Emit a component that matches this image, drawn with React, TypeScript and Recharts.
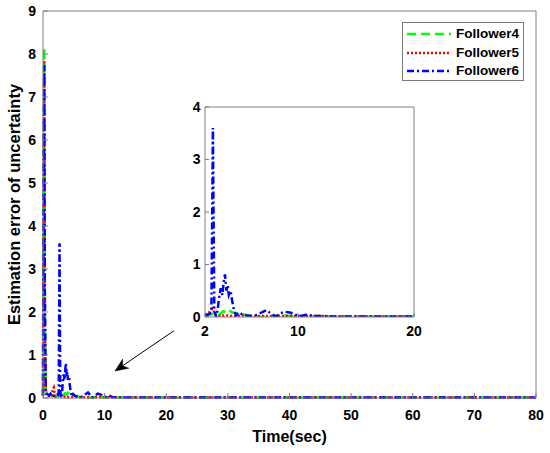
import React from 'react';
import { LineChart, Line, XAxis, YAxis, Legend, ReferenceLine } from 'recharts';

const time = [
  0, 0.1, 0.2, 0.3, 0.45, 0.6, 0.8, 1.0, 1.2, 1.4,
  1.6, 1.75, 1.9, 2.0, 2.2, 2.4, 2.55, 2.68, 2.8, 2.95,
  3.1, 3.2, 3.35, 3.5, 3.6, 3.72, 3.85, 3.95, 4.05, 4.2,
  4.35, 4.5, 4.7, 4.9, 5.2, 5.6, 6.0, 6.5, 6.9, 7.3,
  7.7, 8.1, 8.5, 8.9, 9.4, 9.9, 10.3, 10.8, 11.3, 12,
  13, 14, 16, 18, 20, 25, 30, 35, 40, 45,
  50, 55, 60, 65, 70, 75, 80,
];

const follower4 = [
  0.05, 6.0, 8.15, 2.0, 0.2, 0.12, 0.08, 0.1, 0.06, 0.05,
  0.06, 0.05, 0.04, 0.04, 0.03, 0.04, 0.05, 0.06, 0.05, 0.03,
  0.02, 0.04, 0.07, 0.1, 0.11, 0.1, 0.08, 0.09, 0.12, 0.11,
  0.09, 0.08, 0.07, 0.06, 0.05, 0.04, 0.02, 0.01, 0.0, 0.0,
  0.01, 0.02, 0.03, 0.03, 0.02, 0.02, 0.02, 0.02, 0.02, 0.01,
  0.01, 0.01, 0.01, 0.01, 0.01, 0.01, 0.01, 0.01, 0.01, 0.01,
  0.01, 0.01, 0.01, 0.01, 0.01, 0.01, 0.01,
];

const follower5 = [
  0.05, 5.5, 7.85, 1.6, 0.12, 0.06, 0.04, 0.05, 0.03, 0.05,
  0.2, 0.24, 0.1, 0.04, 0.06, 0.1, 0.14, 0.2, 0.08, 0.03,
  0.02, 0.02, 0.02, 0.03, 0.02, 0.02, 0.02, 0.03, 0.02, 0.02,
  0.02, 0.02, 0.02, 0.02, 0.03, 0.02, 0.02, 0.02, 0.02, 0.02,
  0.02, 0.02, 0.02, 0.02, 0.02, 0.02, 0.02, 0.02, 0.02, 0.02,
  0.01, 0.01, 0.01, 0.01, 0.01, 0.01, 0.01, 0.01, 0.01, 0.01,
  0.01, 0.01, 0.01, 0.01, 0.01, 0.01, 0.01,
];

const follower6 = [
  0.05, 5.0, 7.75, 2.5, 0.2, 0.1, 0.08, 0.06, 0.1, 0.05,
  0.08, 0.05, 0.04, 0.05, 0.04, 0.06, 0.1, 3.6, 0.15, 0.0,
  0.15, 0.35, 0.55, 0.42, 0.65, 0.81, 0.5, 0.6, 0.42, 0.5,
  0.3, 0.12, 0.03, 0.09, 0.05, 0.03, 0.02, 0.04, 0.09, 0.13,
  0.06, 0.01, 0.07, 0.1, 0.08, 0.03, 0.02, 0.05, 0.02, 0.02,
  0.01, 0.01, 0.01, 0.01, 0.01, 0.01, 0.01, 0.01, 0.01, 0.01,
  0.01, 0.01, 0.01, 0.01, 0.01, 0.01, 0.01,
];

const mainXTicks = [0, 10, 20, 30, 40, 50, 60, 70, 80];
const mainYTicks = [0, 1, 2, 3, 4, 5, 6, 7, 8, 9];
const insetXTicks = [2, 10, 20];
const insetYTicks = [0, 1, 2, 3, 4];

const seriesKeys = ['f4', 'f5', 'f6'];
const seriesNames = ['Follower4', 'Follower5', 'Follower6'];
const seriesColors = ['#00ff00', '#ff0000', '#0000ff'];
const seriesDash = ['9 5', '2 2', '7 3 2 3'];

const arrowFrom = { x: 21.25, y: 1.565 };
const arrowTo = { x: 11.68, y: 0.628 };

const data = time.map((t, i) => ({ t, f4: follower4[i], f5: follower5[i], f6: follower6[i] }));
const insetData = data.filter((d) => d.t >= 2 && d.t <= 20);

const FONT = '"Liberation Sans", Arial, sans-serif';
const AX = '#808080';
const tickStyle = { fill: '#000', fontSize: 14, fontWeight: 'bold', fontFamily: FONT };

const ArrowShape = (props: any) => {
  const { x1, y1, x2, y2 } = props;
  if ([x1, y1, x2, y2].some((v) => typeof v !== 'number' || isNaN(v))) return <g />;
  const dx = x2 - x1;
  const dy = y2 - y1;
  const len = Math.sqrt(dx * dx + dy * dy);
  const ux = dx / len;
  const uy = dy / len;
  const px = -uy;
  const py = ux;
  const L = 13;
  const W = 5.5;
  const bx = x2 - ux * L;
  const by = y2 - uy * L;
  const ix = x2 - ux * L * 0.7;
  const iy = y2 - uy * L * 0.7;
  const pts = `${x2},${y2} ${bx + px * W},${by + py * W} ${ix},${iy} ${bx - px * W},${by - py * W}`;
  return (
    <g>
      <line x1={x1} y1={y1} x2={ix} y2={iy} stroke="#000" strokeWidth={1} />
      <polygon points={pts} fill="#000" stroke="#000" strokeWidth={0.5} />
    </g>
  );
};

const LegendBox = () => (
  <div
    style={{
      position: 'relative',
      width: 122,
      height: 59,
      boxSizing: 'border-box',
      border: '1px solid #7a7a7a',
      background: '#fff',
    }}
  >
    {seriesNames.map((name, i) => (
      <div
        key={name}
        style={{
          position: 'absolute',
          left: 0,
          top: 1.5 + i * 18.7,
          height: 18.7,
          display: 'flex',
          alignItems: 'center',
        }}
      >
        <svg width={44} height={4} style={{ marginLeft: 4 }}>
          <line
            x1={0}
            y1={2}
            x2={44}
            y2={2}
            stroke={seriesColors[i]}
            strokeWidth={2.5}
            strokeDasharray={seriesDash[i]}
          />
        </svg>
        <span
          style={{
            marginLeft: 5,
            fontFamily: FONT,
            fontWeight: 'bold',
            fontSize: 13.5,
            color: '#000',
            lineHeight: '18px',
          }}
        >
          {name}
        </span>
      </div>
    ))}
  </div>
);

const renderLines = () =>
  seriesKeys.map((k, i) => (
    <Line
      key={k}
      dataKey={k}
      name={seriesNames[i]}
      type="linear"
      stroke={seriesColors[i]}
      strokeWidth={2.5}
      strokeDasharray={seriesDash[i]}
      dot={false}
      activeDot={false}
      isAnimationActive={false}
    />
  ));

export default function App() {
  return (
    <div style={{ position: 'absolute', left: 0, top: 0, width: 550, height: 453, background: '#fff' }}>
      <LineChart width={550} height={453} data={data} margin={{ top: 10, right: 13, left: 0, bottom: 0 }}>
        <XAxis
          dataKey="t"
          type="number"
          domain={[0, 80]}
          ticks={mainXTicks}
          interval={0}
          height={55}
          tickSize={-5}
          tickMargin={17}
          axisLine={{ stroke: AX }}
          tickLine={{ stroke: AX }}
          tick={tickStyle}
          label={{
            value: 'Time(sec)',
            position: 'insideBottom',
            offset: 11,
            fill: '#000',
            fontSize: 16,
            fontWeight: 'bold',
            fontFamily: FONT,
          }}
        />
        <XAxis
          xAxisId="top"
          orientation="top"
          dataKey="t"
          type="number"
          domain={[0, 80]}
          ticks={mainXTicks}
          interval={0}
          height={1}
          tickSize={-5}
          tick={false}
          axisLine={{ stroke: AX }}
          tickLine={{ stroke: AX }}
        />
        <YAxis
          type="number"
          domain={[0, 9]}
          ticks={mainYTicks}
          interval={0}
          width={43}
          tickSize={-5}
          tickMargin={12}
          axisLine={{ stroke: AX }}
          tickLine={{ stroke: AX }}
          tick={tickStyle}
          label={{
            value: 'Estimation error of uncertainty',
            position: 'center',
            angle: -90,
            dx: -7,
            fill: '#000',
            fontSize: 16.5,
            fontWeight: 'bold',
            fontFamily: FONT,
          }}
        />
        <YAxis
          yAxisId="right"
          orientation="right"
          type="number"
          domain={[0, 9]}
          ticks={mainYTicks}
          interval={0}
          width={1}
          tickSize={-5}
          tick={false}
          axisLine={{ stroke: AX }}
          tickLine={{ stroke: AX }}
        />
        <Legend
          layout="vertical"
          align="center"
          verticalAlign="middle"
          content={() => <LegendBox />}
          wrapperStyle={{ position: 'absolute', left: 402, top: 22, width: 122, height: 59 }}
        />
        {renderLines()}
        <ReferenceLine
          segment={[arrowFrom, arrowTo]}
          stroke="#000"
          ifOverflow="visible"
          shape={ArrowShape}
        />
      </LineChart>

      <div style={{ position: 'absolute', left: 185, top: 100, width: 239, height: 239 }}>
        <LineChart width={239} height={239} data={insetData} margin={{ top: 6, right: 9, left: 0, bottom: 0 }}>
          <XAxis
            dataKey="t"
            type="number"
            domain={[2, 20]}
            ticks={insetXTicks}
            interval={0}
            height={22}
            tickSize={-4}
            tickMargin={13}
            axisLine={{ stroke: AX }}
            tickLine={{ stroke: AX }}
            tick={tickStyle}
            allowDataOverflow
          />
          <XAxis
            xAxisId="top"
            orientation="top"
            dataKey="t"
            type="number"
            domain={[2, 20]}
            ticks={insetXTicks}
            interval={0}
            height={1}
            tickSize={-4}
            tick={false}
            axisLine={{ stroke: AX }}
            tickLine={{ stroke: AX }}
          />
          <YAxis
            type="number"
            domain={[0, 4]}
            ticks={insetYTicks}
            interval={0}
            width={20}
            tickSize={-4}
            tickMargin={8.5}
            axisLine={{ stroke: AX }}
            tickLine={{ stroke: AX }}
            tick={tickStyle}
            allowDataOverflow
          />
          <YAxis
            yAxisId="right"
            orientation="right"
            type="number"
            domain={[0, 4]}
            ticks={insetYTicks}
            interval={0}
            width={1}
            tickSize={-4}
            tick={false}
            axisLine={{ stroke: AX }}
            tickLine={{ stroke: AX }}
          />
          {renderLines()}
        </LineChart>
      </div>
    </div>
  );
}
